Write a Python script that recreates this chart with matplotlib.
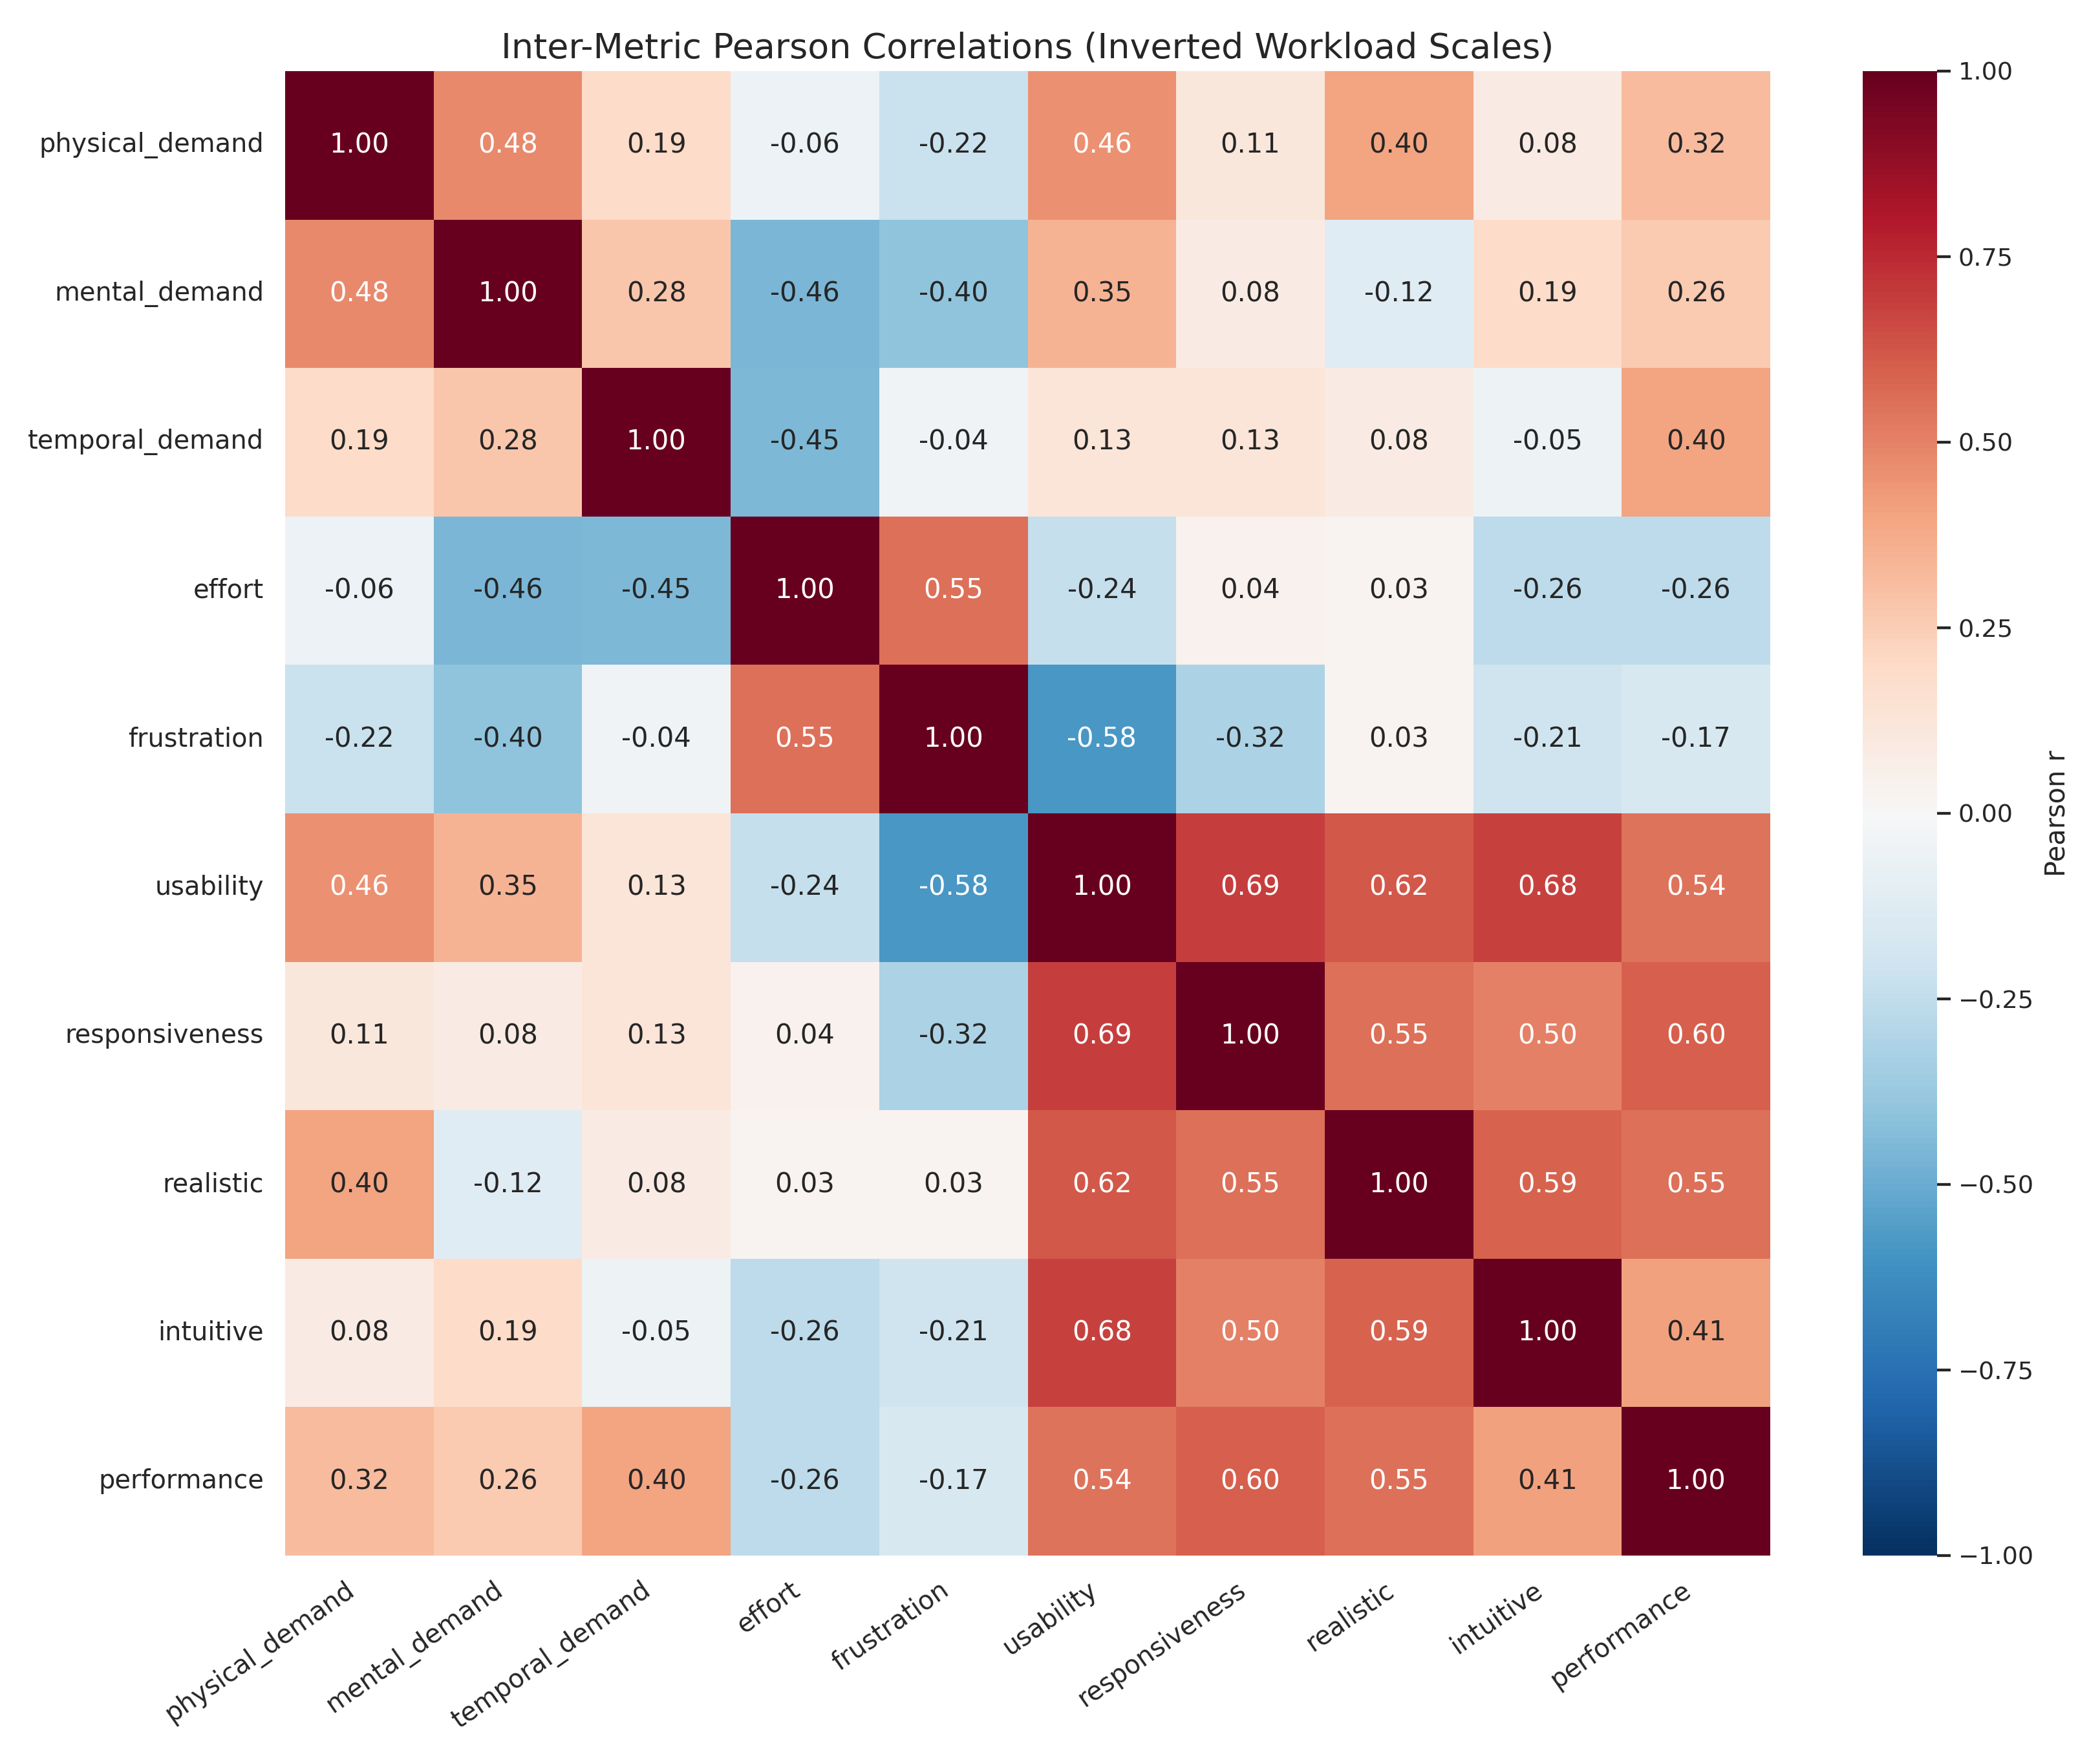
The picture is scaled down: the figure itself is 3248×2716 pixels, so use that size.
import numpy as np
import pandas as pd
import matplotlib
matplotlib.use('Agg')
import matplotlib.pyplot as plt
import seaborn as sns

metrics = ['physical_demand', 'mental_demand', 'temporal_demand', 'effort',
           'frustration', 'usability', 'responsiveness', 'realistic',
           'intuitive', 'performance']

# rows of the correlation matrix
physical_demand = [1.00, 0.48, 0.19, -0.06, -0.22, 0.46, 0.11, 0.40, 0.08, 0.32]
mental_demand   = [0.48, 1.00, 0.28, -0.46, -0.40, 0.35, 0.08, -0.12, 0.19, 0.26]
temporal_demand = [0.19, 0.28, 1.00, -0.45, -0.04, 0.13, 0.13, 0.08, -0.05, 0.40]
effort          = [-0.06, -0.46, -0.45, 1.00, 0.55, -0.24, 0.04, 0.03, -0.26, -0.26]
frustration     = [-0.22, -0.40, -0.04, 0.55, 1.00, -0.58, -0.32, 0.03, -0.21, -0.17]
usability       = [0.46, 0.35, 0.13, -0.24, -0.58, 1.00, 0.69, 0.62, 0.68, 0.54]
responsiveness  = [0.11, 0.08, 0.13, 0.04, -0.32, 0.69, 1.00, 0.55, 0.50, 0.60]
realistic       = [0.40, -0.12, 0.08, 0.03, 0.03, 0.62, 0.55, 1.00, 0.59, 0.55]
intuitive       = [0.08, 0.19, -0.05, -0.26, -0.21, 0.68, 0.50, 0.59, 1.00, 0.41]
performance     = [0.32, 0.26, 0.40, -0.26, -0.17, 0.54, 0.60, 0.55, 0.41, 1.00]

rows = [physical_demand, mental_demand, temporal_demand, effort, frustration,
        usability, responsiveness, realistic, intuitive, performance]
corr = pd.DataFrame(np.array(rows), index=metrics, columns=metrics)

sns.set_theme(style='white')

W, H, DPI = 3248, 2716, 250
fig = plt.figure(figsize=(W / DPI, H / DPI), dpi=DPI)
ax = fig.add_axes([441 / W, 1 - 2406 / H, 2297 / W, 2296 / H])
cax = fig.add_axes([2881 / W, 1 - 2406 / H, 115 / W, 2296 / H])

sns.heatmap(corr, ax=ax, cbar_ax=cax, annot=True, fmt='.2f', cmap='RdBu_r',
            vmin=-1, vmax=1, center=0, annot_kws={'fontsize': 12},
            cbar_kws={'label': 'Pearson r'})

ax.set_title('Inter-Metric Pearson Correlations (Inverted Workload Scales)',
             fontsize=15.5)
ax.set_xticklabels(ax.get_xticklabels(), rotation=35, ha='right', fontsize=11.5)
ax.set_yticklabels(ax.get_yticklabels(), rotation=0, fontsize=11.5)
cax.set_yticks([-1, -0.75, -0.5, -0.25, 0, 0.25, 0.5, 0.75, 1])
cax.set_yticklabels(['{:.2f}'.format(v).replace('-', '\u2212')
                     for v in [-1, -0.75, -0.5, -0.25, 0, 0.25, 0.5, 0.75, 1]])

fig.savefig('out.png', dpi=DPI)
